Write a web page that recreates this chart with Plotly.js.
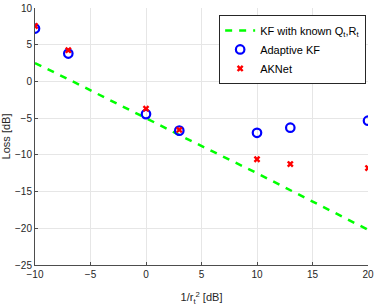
<!DOCTYPE html>
<html><head><meta charset="utf-8">
<script src="https://cdn.plot.ly/plotly-3.0.1.min.js"></script>
<style>html,body{margin:0;padding:0;background:#fff}</style>
</head><body>
<div id="chart" style="width:379px;height:307px"></div>
<script>
var snr = [-10, -7, 0, 3, 10, 13, 20];
var kfKnown = [2.5, 0.3, -5.0, -7.3, -12.5, -14.8, -20.2];
var adaptiveKF = [7.2, 3.8, -4.45, -6.7, -7.0, -6.3, -5.35];
var aknet = [7.55, 4.25, -3.7, -6.6, -10.6, -11.25, -11.8];
var xTicks = [-10, -5, 0, 5, 10, 15, 20];
var yTicks = [-25, -20, -15, -10, -5, 0, 5, 10];

var traces = [
  {x: snr, y: kfKnown, mode: 'lines', name: 'KF with known Q<sub>t</sub>,R<sub>t</sub>',
   line: {color: '#00ff00', width: 2.5, dash: '7px,7px'}},
  {x: snr, y: adaptiveKF, mode: 'markers', name: 'Adaptive KF',
   marker: {symbol: 'circle-open', color: '#0000ff', size: 8.5, line: {width: 2.2, color: '#0000ff'}}},
  {x: snr, y: aknet, mode: 'markers', name: 'AKNet',
   marker: {symbol: 'x', color: '#ff0000', size: 6, line: {width: 0}}}
];
var axisCommon = {
  showgrid: true, gridcolor: '#e6e6e6', gridwidth: 1,
  showline: true, linecolor: '#4d4d4d', linewidth: 1,
  ticks: 'inside', ticklen: 3, tickcolor: '#4d4d4d',
  tickfont: {family: 'Liberation Sans, Arial, sans-serif', size: 10, color: '#262626'},
  zeroline: false
};
var layout = {
  width: 379, height: 307,
  margin: {l: 35, r: 11, t: 8, b: 42},
  paper_bgcolor: '#fff', plot_bgcolor: '#fff',
  showlegend: true,
  xaxis: Object.assign({}, axisCommon, {range: [-10, 20], tickvals: xTicks,
    title: {text: '1/r<sub>t</sub><sup>2</sup> [dB]', standoff: 14,
      font: {family: 'Liberation Sans, Arial, sans-serif', size: 11, color: '#262626'}}}),
  yaxis: Object.assign({}, axisCommon, {range: [-25, 10], tickvals: yTicks,
    title: {text: 'Loss [dB]', standoff: 4,
      font: {family: 'Liberation Sans, Arial, sans-serif', size: 11, color: '#262626'}}}),
  legend: {x: 0.553, y: 0.973, xanchor: 'left', yanchor: 'top',
    bgcolor: '#ffffff', bordercolor: '#262626', borderwidth: 1,
    font: {family: 'Liberation Sans, Arial, sans-serif', size: 11, color: '#000'},
    tracegroupgap: 0, itemwidth: 30}
};
Plotly.newPlot('chart', traces, layout, {displayModeBar: false, staticPlot: true});
</script>
</body></html>
